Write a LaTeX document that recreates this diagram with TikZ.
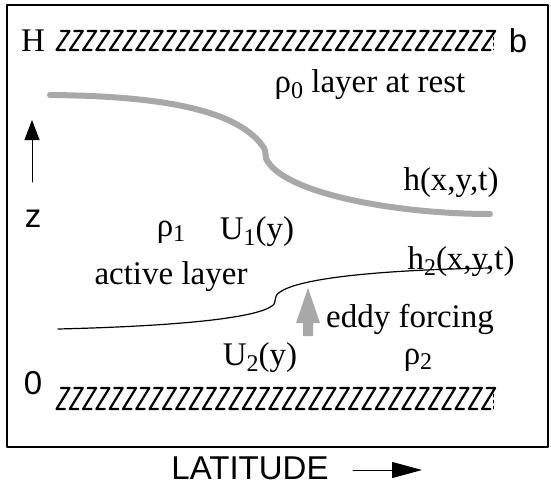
\documentclass[tikz,border=0pt]{standalone}
\usepackage{fontspec}
\setmainfont{Liberation Serif}
\setsansfont{Liberation Sans}
\usetikzlibrary{arrows.meta}
\newcommand{\lowidx}[1]{\raisebox{-0.35ex}{\fontsize{24}{24}\selectfont #1}}
\begin{document}
\begin{tikzpicture}[x=1pt, y=-1pt, line cap=round, line join=round,
    lbl/.style={font=\fontsize{33}{35}\selectfont, inner sep=0pt},
    slbl/.style={font=\sffamily\fontsize{33}{35}\selectfont, inner sep=0pt},
    hatch/.style={line width=2.2pt},
    wall/.style={line width=0.9pt, dash pattern=on 3pt off 3pt}]
  \definecolor{layergray}{RGB}{168,168,168}
  \useasboundingbox (0,0) rectangle (551,485);
  \draw[line width=1.3pt] (7,5) rectangle (548,447);
  % solid walls at z=H and z=0
  \foreach \yt/\yb in {31/50, 388/409} {
    \foreach \i in {0,...,32}
      \draw[hatch] ({61+13.3*\i},\yt) -- ++(8.5,0) -- ({56.5+13.3*\i},\yb) -- ++(8.5,0);
    \draw[wall] (493,\yt) -- (493,\yb);
  }
  \node[lbl] (H) at (33,41) {H};
  \node[slbl] (b) at (518,41) {b};
  \node[slbl] (zero) at (33,383) {0};
  \node[lbl] (rest) at (370,85) {ρ\lowidx{0} layer at rest};
  % interfaces
  \draw[layergray, line width=6pt] (50,95) .. controls (170,96) and (240,112) .. (264,148)
    .. controls (267,153) and (264,158) .. (268,162)
    .. controls (290,195) and (400,214) .. (490,214);
  \draw[line width=1.2pt] (58,329) .. controls (180,326) and (255,318) .. (272,306)
    .. controls (278,302) and (272,297) .. (280,292)
    .. controls (300,278) and (380,270) .. (490,268);
  \node[lbl] (h) at (451,183) {h(x,y,t)};
  \node[lbl] (h2) at (461,262) {h\lowidx{2}(x,y,t)};
  \node[lbl] (rho1) at (171,232) {ρ\lowidx{1}};
  \node[lbl] (U1) at (257,232) {U\lowidx{1}(y)};
  \node[lbl] (active) at (171,277) {active layer};
  \node[lbl] (eddy) at (410,319) {eddy forcing};
  \node[lbl] (U2) at (260,358) {U\lowidx{2}(y)};
  \node[lbl] (rho2) at (418,360) {ρ\lowidx{2}};
  % eddy forcing arrow
  \fill[layergray] (303,336) -- (303,323) -- (296,323) -- (308,288) -- (320,323) -- (313,323) -- (313,336) -- cycle;
  % axes
  \node[slbl] (z) at (33,219) {z};
  \coordinate (zfoot) at (32,182);
  \coordinate (ztip) at (32,120);
  \draw[line width=1pt, -{Triangle[length=20pt, width=15pt]}] (zfoot) -- (ztip);
  \node[slbl] (lat) at (250,468) {LATITUDE};
  \coordinate (latfoot) at (353,470);
  \coordinate (lattip) at (422,470);
  \draw[line width=1pt, -{Triangle[length=30pt, width=16pt]}] (latfoot) -- (lattip);
\end{tikzpicture}
\end{document}
